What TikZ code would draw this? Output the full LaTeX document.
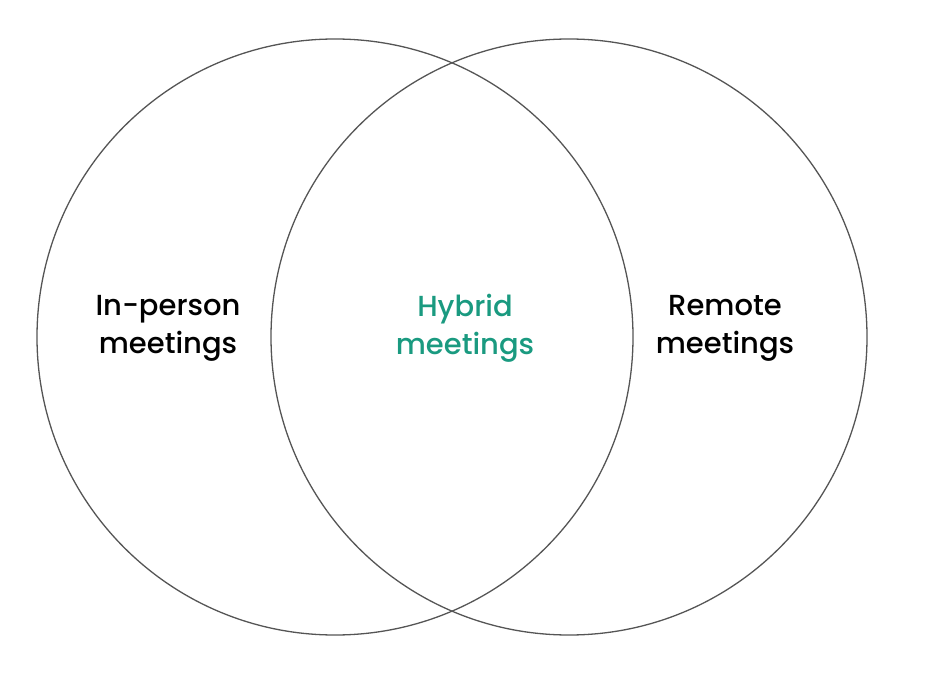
\documentclass[tikz,border=0pt]{standalone}
\usepackage{fontspec}
\setmainfont{Poppins Medium}
\usepackage{tikz}
\usetikzlibrary{positioning}
\definecolor{hybridgreen}{HTML}{1A9A80}
\definecolor{ringgray}{HTML}{555555}

\begin{document}
\begin{tikzpicture}[
  x=1pt, y=1pt,
  every node/.style={font=\fontsize{29}{38}\selectfont, align=center, inner sep=0pt},
  ring/.style={draw=ringgray, line width=1.3pt}
]
\useasboundingbox (0,0) rectangle (934,673);
% Circles
\draw[ring] (335,336) circle (298);
\draw[ring] (569,336) circle (298);

% Labels
\node (inperson) at (168,345) {In-person\\meetings};
\node[text=hybridgreen] (hybrid) at (465,345) {Hybrid\\meetings};
\node (remote) at (725,345) {Remote\\meetings};
\end{tikzpicture}
\end{document}
